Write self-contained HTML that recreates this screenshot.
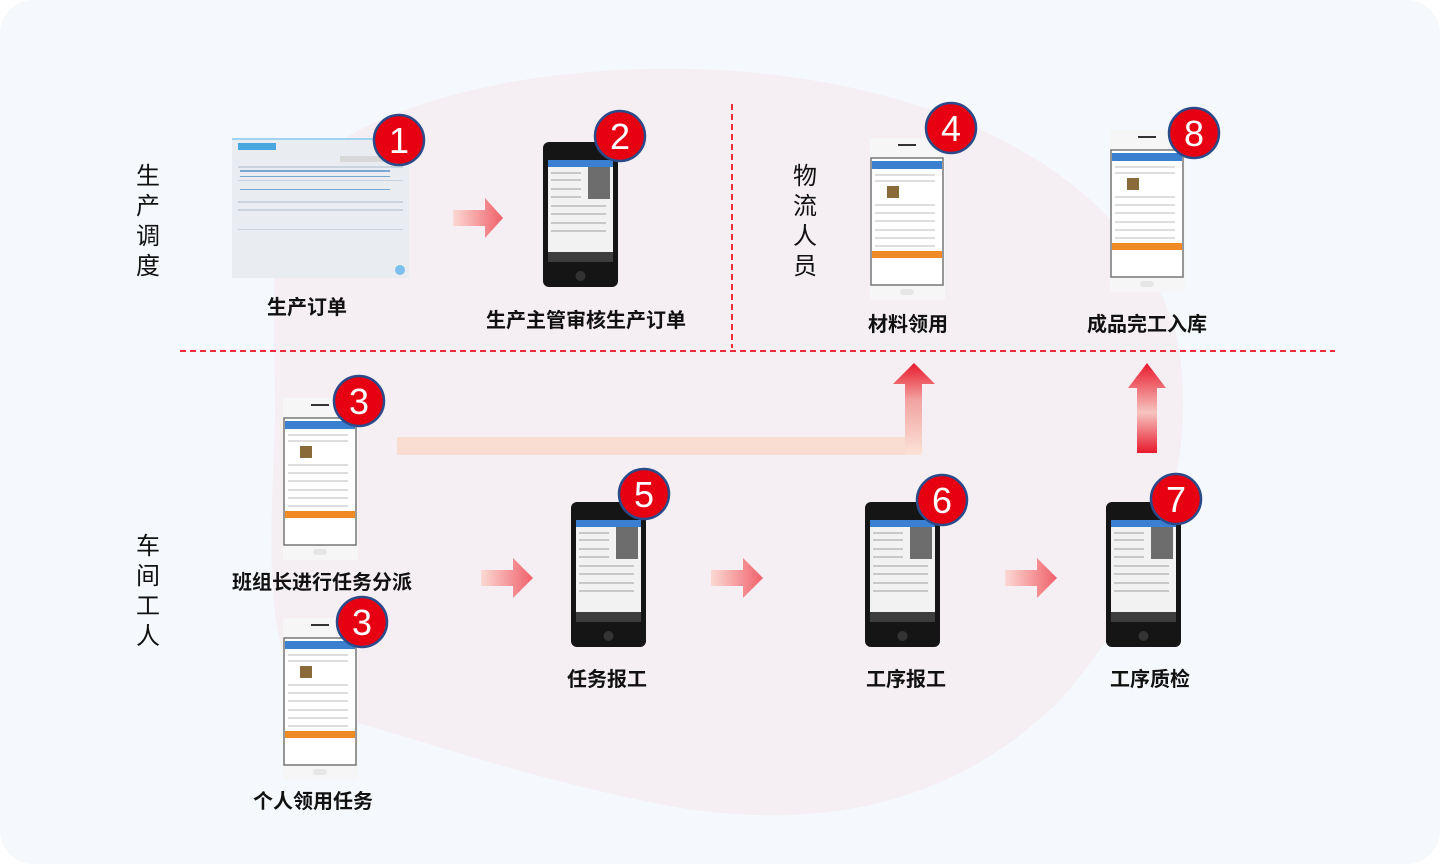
<!DOCTYPE html>
<html><head><meta charset="utf-8"><style>
html,body{margin:0;padding:0;background:#fff;}
svg{display:block}
text{font-family:"Liberation Sans","Noto Sans CJK SC",sans-serif;}
</style></head><body>
<svg width="1440" height="864" viewBox="0 0 1440 864" xmlns="http://www.w3.org/2000/svg">
<defs>
<linearGradient id="ar" x1="0" x2="1" y1="0" y2="0"><stop offset="0" stop-color="#fbd9d4"/><stop offset="1" stop-color="#f0606a"/></linearGradient>
<linearGradient id="up" x1="0" x2="0" y1="1" y2="0"><stop offset="0" stop-color="#fbe3d8"/><stop offset="0.6" stop-color="#f2a3a0"/><stop offset="1" stop-color="#e8192c"/></linearGradient>
<linearGradient id="up2" x1="0" x2="0" y1="1" y2="0"><stop offset="0" stop-color="#e8192c"/><stop offset="0.45" stop-color="#f6c5c0"/><stop offset="1" stop-color="#e8192c"/></linearGradient>
<g id="bp">
<rect x="0" y="0" width="75" height="145" rx="6" fill="#151515"/>
<rect x="5" y="18" width="65" height="100" fill="#f2f2f2"/>
<rect x="5" y="18" width="65" height="7" fill="#3a7fd0"/>
<rect x="45" y="25" width="22" height="32" fill="#6d6d6d"/>
<g fill="#c8c8c8"><rect x="8" y="30" width="30" height="2"/><rect x="8" y="37" width="30" height="2"/><rect x="8" y="46" width="30" height="2"/><rect x="8" y="54" width="30" height="2"/><rect x="8" y="63" width="55" height="2"/><rect x="8" y="71" width="55" height="2"/><rect x="8" y="80" width="55" height="2"/><rect x="8" y="88" width="55" height="2"/></g>
<rect x="5" y="110" width="65" height="10" fill="#3d3d3d"/>
<circle cx="37.5" cy="134" r="5" fill="#333"/>
</g>
<g id="wp">
<rect x="0" y="0" width="75" height="162" fill="#f6f6f6"/>
<rect x="28" y="6" width="18" height="2" fill="#333"/>
<rect x="1" y="20" width="72" height="127" fill="#fff" stroke="#777" stroke-width="1.5"/>
<rect x="2" y="23" width="70" height="8" fill="#3a7fd0"/>
<rect x="17" y="48" width="12" height="12" fill="#8b6a3a"/>
<g fill="#ddd"><rect x="5" y="36" width="60" height="2"/><rect x="5" y="42" width="60" height="2"/><rect x="5" y="66" width="60" height="2"/><rect x="5" y="74" width="60" height="2"/><rect x="5" y="82" width="60" height="2"/><rect x="5" y="91" width="60" height="2"/><rect x="5" y="99" width="60" height="2"/><rect x="5" y="107" width="60" height="2"/></g>
<rect x="2" y="113" width="70" height="7" fill="#f08a24"/>
<rect x="30" y="151" width="14" height="6" rx="3" fill="#e6e6e6"/>
</g>
<g id="bd"><circle r="25" fill="#e60012" stroke="#2a4a8a" stroke-width="2.5"/></g>
</defs>
<rect x="0" y="0" width="1440" height="864" rx="34" fill="#f5f8fd"/>
<path d="M285 190 C340 110 520 60 720 70 C900 80 1120 150 1175 330 C1205 460 1150 600 1060 700 C960 800 820 840 640 800 C520 775 420 740 330 715 C260 680 270 560 275 420 C275 320 270 240 285 190 Z" fill="#f5eff3"/>
<!-- dashed lines -->
<line x1="180" y1="351" x2="1335" y2="351" stroke="#ef2d3a" stroke-width="2" stroke-dasharray="6 4"/>
<line x1="732" y1="104" x2="732" y2="348" stroke="#ef2d3a" stroke-width="2" stroke-dasharray="6 4"/>
<!-- doc 1 -->
<rect x="232" y="138" width="177" height="140" fill="#e9ecf0"/>
<rect x="232" y="138" width="177" height="2" fill="#9fd3f0"/>
<rect x="238" y="143" width="38" height="7" fill="#4aa8e0"/>
<rect x="340" y="156" width="52" height="6" fill="#d8d8d8"/>
<g fill="#c9d3de"><rect x="238" y="166" width="165" height="2"/><rect x="238" y="180" width="165" height="1"/><rect x="238" y="201" width="165" height="2"/><rect x="238" y="209" width="165" height="2"/><rect x="238" y="229" width="165" height="1"/></g>
<g fill="#7aa6d2"><rect x="240" y="170" width="150" height="2"/><rect x="240" y="176" width="150" height="1"/><rect x="240" y="189" width="150" height="1"/></g>
<circle cx="400" cy="270" r="5" fill="#7cc0ee"/>
<!-- phones -->
<use href="#bp" x="543" y="142"/>
<use href="#bp" x="571" y="502"/>
<use href="#bp" x="865" y="502"/>
<use href="#bp" x="1106" y="502"/>
<use href="#wp" x="870" y="138"/>
<use href="#wp" x="1110" y="130"/>
<use href="#wp" x="283" y="398"/>
<use href="#wp" x="283" y="618"/>
<!-- badges -->
<use href="#bd" x="399" y="140"/><text x="399" y="153" font-size="36" fill="#fff" text-anchor="middle">1</text>
<use href="#bd" x="620" y="136"/><text x="620" y="149" font-size="36" fill="#fff" text-anchor="middle">2</text>
<use href="#bd" x="951" y="128"/><text x="951" y="141" font-size="36" fill="#fff" text-anchor="middle">4</text>
<use href="#bd" x="1194" y="133"/><text x="1194" y="146" font-size="36" fill="#fff" text-anchor="middle">8</text>
<use href="#bd" x="359" y="401"/><text x="359" y="414" font-size="36" fill="#fff" text-anchor="middle">3</text>
<use href="#bd" x="362" y="622"/><text x="362" y="635" font-size="36" fill="#fff" text-anchor="middle">3</text>
<use href="#bd" x="644" y="494"/><text x="644" y="507" font-size="36" fill="#fff" text-anchor="middle">5</text>
<use href="#bd" x="942" y="500"/><text x="942" y="513" font-size="36" fill="#fff" text-anchor="middle">6</text>
<use href="#bd" x="1176" y="499"/><text x="1176" y="512" font-size="36" fill="#fff" text-anchor="middle">7</text>
<!-- arrows -->
<path d="M453 210 H485 V198 L503 218 L485 238 V226 H453 Z" fill="url(#ar)"/>
<path d="M481 570 H513 V558 L533 578 L513 598 V586 H481 Z" fill="url(#ar)"/>
<path d="M711 570 H743 V558 L763 578 L743 598 V586 H711 Z" fill="url(#ar)"/>
<path d="M1005 570 H1037 V558 L1057 578 L1037 598 V586 H1005 Z" fill="url(#ar)"/>
<path d="M397 437 H905 V384 H893 L914 363 L935 384 H922 V455 H397 Z" fill="#f9ddd2"/>
<path d="M905 437 V384 H893 L914 363 L935 384 H922 V455 H905 Z" fill="url(#up)"/>
<path d="M1137 453 V388 H1128 L1147 363 L1166 388 H1157 V453 Z" fill="url(#up2)"/>
<!-- labels -->
<g font-size="20" font-weight="bold" fill="#111" text-anchor="middle">
<text x="307" y="314">生产订单</text>
<text x="586" y="327">生产主管审核生产订单</text>
<text x="908" y="331">材料领用</text>
<text x="1147" y="331">成品完工入库</text>
<text x="322" y="589">班组长进行任务分派</text>
<text x="313" y="808">个人领用任务</text>
<text x="607" y="686">任务报工</text>
<text x="906" y="686">工序报工</text>
<text x="1150" y="686">工序质检</text>
</g>
<g font-size="24" fill="#111" text-anchor="middle">
<text x="148" y="184">生</text><text x="148" y="214">产</text><text x="148" y="244">调</text><text x="148" y="274">度</text>
<text x="148" y="554">车</text><text x="148" y="584">间</text><text x="148" y="614">工</text><text x="148" y="644">人</text>
<text x="805" y="184">物</text><text x="805" y="214">流</text><text x="805" y="244">人</text><text x="805" y="274">员</text>
</g>
</svg>
</body></html>
